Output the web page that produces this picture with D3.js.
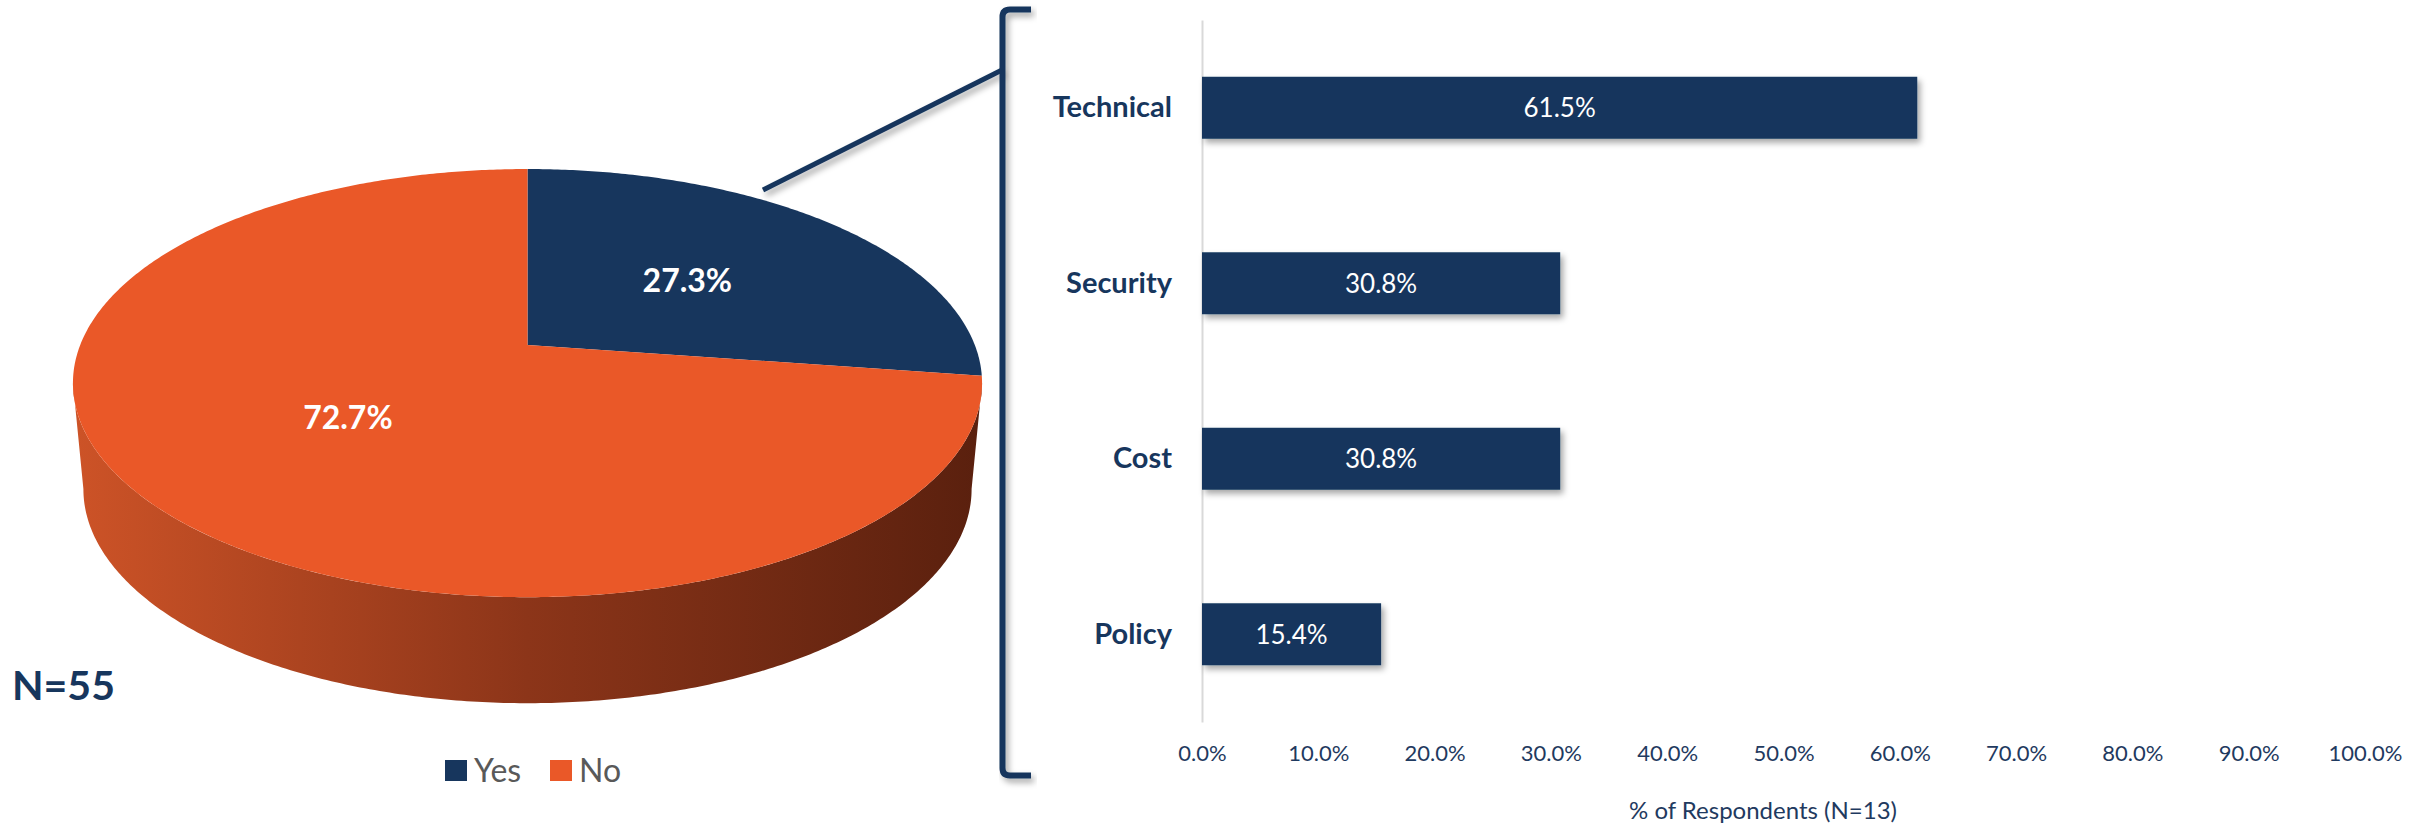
<!DOCTYPE html>
<html>
<head>
  <meta charset="utf-8">
  <title>Pie of bar</title>
  <style>
    body { margin: 0; background: #fff; }
    text { font-family: Lato, "Open Sans", sans-serif; }
  </style>
</head>
<body>
  <div class="container"></div>

  <script src="https://d3js.org/d3.v7.min.js"></script>
  <script type="text/javascript">
    // pie data
    var pieLabels = ["Yes", "No"];
    var pieValues = [27.3, 72.7];
    var pieColors = ["#17365D", "#EA5828"];

    // bar data
    var barCats   = ["Technical", "Security", "Cost", "Policy"];
    var barValues = [0.615, 0.308, 0.308, 0.154];
    var xTicks    = [0, 0.1, 0.2, 0.3, 0.4, 0.5, 0.6, 0.7, 0.8, 0.9, 1.0];

    var navy = "#17365D";

    var svg = d3.select(".container")
        .append("svg")
        .attr("width", 2433)
        .attr("height", 825);

    var defs = svg.append("defs");
    defs.append("filter").attr("id", "shadow")
        .attr("x", "-10%").attr("y", "-10%").attr("width", "130%").attr("height", "140%")
      .append("feDropShadow")
        .attr("dx", 3).attr("dy", 4).attr("stdDeviation", 3)
        .attr("flood-color", "#000").attr("flood-opacity", 0.35);

    var grad = defs.append("linearGradient").attr("id", "sideGrad")
        .attr("gradientUnits", "userSpaceOnUse")
        .attr("x1", 73).attr("x2", 982).attr("y1", 0).attr("y2", 0);
    grad.append("stop").attr("offset", 0).attr("stop-color", "#CD5327");
    grad.append("stop").attr("offset", 0.5).attr("stop-color", "#8C3519");
    grad.append("stop").attr("offset", 1).attr("stop-color", "#5A200E");

    // ---- 3D pie (perspective projection of a disc) ----
    var k = 0.178,              // perspective strength
        pcx = 527.5, pcy = 345, // where the disc centre lands
        psx = 447.3, psy = 207.3,
        depth = 106, botScale = 0.977;

    function proj(theta, r, s, dy) {
      var u = r * Math.sin(theta), v = -r * Math.cos(theta);
      var w = 1 - k * v;
      return [pcx + s * psx * u / w, pcy + dy + psy * v / w];
    }
    function arcPoints(a0, a1, r, s, dy) {
      var n = Math.max(2, Math.ceil((a1 - a0) / 0.01)), pts = [];
      for (var i = 0; i <= n; i++) pts.push(proj(a0 + (a1 - a0) * i / n, r, s, dy));
      return pts;
    }

    var pie = d3.pie().sort(null).value(function(d){ return d; });
    var arcs = pie(pieValues);
    var line = d3.line();

    var gPie = svg.append("g");

    // visible front wall runs between the widest points of the ellipse
    var frontA = Math.acos(-k), frontB = 2 * Math.PI - Math.acos(-k);
    arcs.forEach(function(d, i) {
      var a0 = Math.max(d.startAngle, frontA), a1 = Math.min(d.endAngle, frontB);
      if (a1 <= a0) return;
      var top = arcPoints(a0, a1, 1, 1, 0);
      var bot = arcPoints(a0, a1, 1, botScale, depth).reverse();
      gPie.append("path")
          .attr("d", line(top.concat(bot)) + "Z")
          .attr("fill", i == 1 ? "url(#sideGrad)" : "#0E2140");
    });

    gPie.selectAll(".slice")
        .data(arcs)
        .enter()
        .append("path")
        .attr("class", "slice")
        .attr("d", function(d){
          return line([proj(0, 0, 1, 0)].concat(arcPoints(d.startAngle, d.endAngle, 1, 1, 0))) + "Z";
        })
        .attr("fill", function(d, i){ return pieColors[i]; });

    gPie.selectAll(".plabel")
        .data(arcs)
        .enter()
        .append("text")
        .attr("class", "plabel")
        .attr("x", function(d){ return proj((d.startAngle + d.endAngle) / 2, 0.5, 1, 0)[0]; })
        .attr("y", function(d){ return proj((d.startAngle + d.endAngle) / 2, 0.5, 1, 0)[1]; })
        .attr("dy", "0.36em")
        .attr("text-anchor", "middle")
        .attr("fill", "#fff")
        .attr("font-weight", "bold")
        .attr("font-size", 32)
        .text(function(d){ return d.data.toFixed(1) + "%"; });

    svg.append("text")
        .attr("x", 12).attr("y", 700)
        .attr("fill", navy).attr("font-weight", "bold").attr("font-size", 41)
        .text("N=55");

    // legend
    var leg = svg.append("g").selectAll("g")
        .data(pieLabels)
        .enter()
        .append("g")
        .attr("transform", function(d, i){ return "translate(" + [445, 550][i] + ",760)"; });
    leg.append("rect").attr("width", 22).attr("height", 21)
        .attr("fill", function(d, i){ return pieColors[i]; });
    leg.append("text").attr("x", 29).attr("y", 10.5).attr("dy", "0.36em")
        .attr("font-size", 32).attr("fill", "#595959")
        .text(function(d){ return d; });

    // connector line and bracket
    svg.append("line")
        .attr("x1", 763).attr("y1", 190).attr("x2", 1002).attr("y2", 70)
        .attr("stroke", navy).attr("stroke-width", 5)
        .attr("filter", "url(#shadow)");
    svg.append("path")
        .attr("d", "M1031,9.5 H1010 Q1002.5,9.5 1002.5,17 V768 Q1002.5,775.5 1010,775.5 H1031")
        .attr("fill", "none").attr("stroke", navy).attr("stroke-width", 6)
        .attr("filter", "url(#shadow)");

    // ---- bar chart ----
    var xScale = d3.scaleLinear().domain([0, 1]).range([1202, 2365]);
    var yScale = d3.scaleBand().domain(barCats).range([20, 722])
        .paddingInner(0.647).paddingOuter(0.3235);

    var yAxis = svg.append("g")
        .attr("transform", "translate(1202,0)")
        .call(d3.axisLeft(yScale).tickSize(0).tickSizeOuter(0).tickPadding(30));
    yAxis.select(".domain").attr("stroke", "#D9D9D9").attr("stroke-width", 2);
    yAxis.selectAll("text")
        .attr("font-family", "Lato, sans-serif")
        .attr("font-size", 29).attr("font-weight", "bold").attr("fill", navy);

    var xAxis = svg.append("g")
        .attr("transform", "translate(0,742)")
        .call(d3.axisBottom(xScale).tickValues(xTicks).tickSize(0).tickFormat(d3.format(".1%")));
    xAxis.select(".domain").remove();
    xAxis.selectAll("text")
        .attr("font-family", "Lato, sans-serif")
        .attr("font-size", 22).attr("fill", "#1F3A60");

    svg.selectAll(".bar")
        .data(barValues)
        .enter()
        .append("rect")
        .attr("class", "bar")
        .attr("x", xScale(0))
        .attr("y", function(d, i){ return yScale(barCats[i]); })
        .attr("width", function(d){ return xScale(d) - xScale(0); })
        .attr("height", yScale.bandwidth())
        .attr("fill", navy)
        .attr("filter", "url(#shadow)");

    svg.selectAll(".blabel")
        .data(barValues)
        .enter()
        .append("text")
        .attr("class", "blabel")
        .attr("x", function(d){ return (xScale(d) + xScale(0)) / 2; })
        .attr("y", function(d, i){ return yScale(barCats[i]) + yScale.bandwidth() / 2; })
        .attr("dy", "0.36em")
        .attr("text-anchor", "middle")
        .attr("fill", "#fff").attr("font-size", 26)
        .text(function(d){ return d3.format(".1%")(d); });

    svg.append("text")
        .attr("x", 1763).attr("y", 810).attr("dy", "0.36em")
        .attr("text-anchor", "middle")
        .attr("font-size", 24).attr("fill", "#1F3A60")
        .text("% of Respondents (N=13)");
  </script>
</body>
</html>
